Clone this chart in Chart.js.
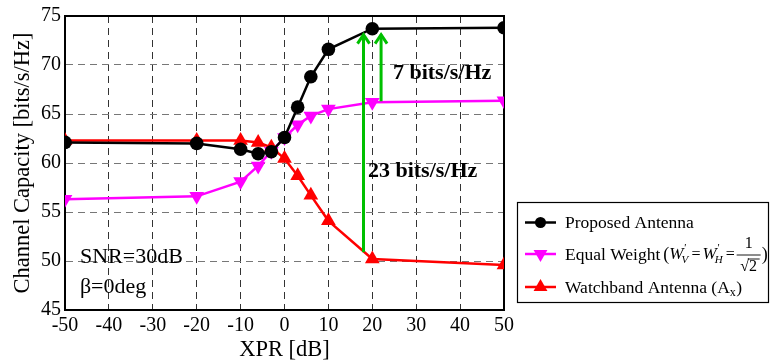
<!DOCTYPE html>
<html><head><meta charset="utf-8">
<script src="https://cdn.jsdelivr.net/npm/chart.js@4/dist/chart.umd.min.js"></script>
<style>html,body{margin:0;padding:0;background:#fff}#wrap{width:770px;height:364px;position:relative}</style>
</head><body><div id="wrap"><canvas id="c" width="770" height="364"></canvas></div>
<script>
// ---- data ----
const xprValues = [-50, -20, -10, -6, -3, 0, 3, 6, 10, 20, 50];
const proposedAntenna = [62.1, 62.0, 61.4, 60.95, 61.15, 62.6, 65.7, 68.8, 71.6, 73.7, 73.8];
const equalWeight = [56.3, 56.6, 58.1, 59.7, 61.2, 62.6, 63.9, 64.8, 65.5, 66.2, 66.35];
const watchbandAntenna = [62.3, 62.3, 62.3, 62.1, 61.6, 60.45, 58.7, 56.7, 54.1, 50.2, 49.6];
const seriesNames = ['Proposed Antenna', 'Equal Weight', 'Watchband Antenna (A'];
const xTicks = [-50, -40, -30, -20, -10, 0, 10, 20, 30, 40, 50];
const yTicks = [45, 50, 55, 60, 65, 70, 75];
// gain arrows (XPR position, start value, end value)
const arrowXpr = [18, 22];
const arrowFrom = [50.9, 66.3];
const arrowTo = [73.1, 73.1];
const gainLabels = ['23 bits/s/Hz', '7 bits/s/Hz'];
const gainLabelPos = [[19.0, 59.2], [24.7, 69.15]];
const noteLabels = ['SNR=30dB', 'β=0deg'];
const notePos = [[-46.6, 50.4], [-46.6, 47.35]];

const SERIF = '"Liberation Serif", "Times New Roman", serif';
const toPts = ys => xprValues.map((x, i) => ({x, y: ys[i]}));

const framePlugin = {
  id: 'frame',
  beforeDatasetsDraw(chart) {
    const {ctx, chartArea: a} = chart;
    ctx.save();
    ctx.setLineDash([]);
    ctx.strokeStyle = '#000'; ctx.lineWidth = 2;
    ctx.strokeRect(a.left, a.top, a.right - a.left, a.bottom - a.top);
    ctx.restore();
  },
  afterDatasetsDraw(chart) {
    const {ctx, scales: {x, y}} = chart;
    ctx.save();
    ctx.setLineDash([]);
    // arrows
    ctx.strokeStyle = '#00c000'; ctx.lineWidth = 3; ctx.lineCap = 'butt';
    arrowXpr.forEach((xv, i) => {
      const px = x.getPixelForValue(xv);
      const y0 = y.getPixelForValue(arrowFrom[i]);
      const y1 = y.getPixelForValue(arrowTo[i]);
      ctx.beginPath(); ctx.moveTo(px, y0); ctx.lineTo(px, y1); ctx.stroke();
      ctx.beginPath(); ctx.moveTo(px - 6, y1 + 9); ctx.lineTo(px, y1); ctx.lineTo(px + 6, y1 + 9); ctx.stroke();
    });
    // gain labels
    ctx.fillStyle = '#000'; ctx.textBaseline = 'middle'; ctx.textAlign = 'left';
    ctx.font = 'bold 22px ' + SERIF;
    gainLabels.forEach((t, i) => {
      ctx.fillText(t, x.getPixelForValue(gainLabelPos[i][0]), y.getPixelForValue(gainLabelPos[i][1]));
    });
    ctx.font = '22px ' + SERIF;
    noteLabels.forEach((t, i) => {
      ctx.fillText(t, x.getPixelForValue(notePos[i][0]), y.getPixelForValue(notePos[i][1]));
    });
    ctx.restore();
  },
  afterDraw(chart) {
    const {ctx} = chart;
    ctx.save();
    ctx.setLineDash([]);
    const bx = 517, by = 202, bw = 251, bh = 100;
    ctx.fillStyle = '#fff'; ctx.fillRect(bx, by, bw, bh);
    ctx.strokeStyle = '#000'; ctx.lineWidth = 1.2;
    ctx.strokeRect(bx + 0.5, by + 0.5, bw, bh);
    const rows = [222.5, 254, 287];
    chart.data.datasets.forEach((ds, i) => {
      const ry = rows[i];
      ctx.strokeStyle = ds.borderColor; ctx.fillStyle = ds.borderColor; ctx.lineWidth = 2.5;
      ctx.beginPath(); ctx.moveTo(525, ry); ctx.lineTo(556, ry); ctx.stroke();
      Chart.helpers.drawPoint(ctx, {pointStyle: ds.pointStyle, rotation: ds.rotation || 0, radius: ds.legendRadius, borderWidth: 0}, 540.5, ry);
    });
    ctx.fillStyle = '#000'; ctx.textBaseline = 'middle'; ctx.textAlign = 'left';
    ctx.font = '17.5px ' + SERIF;
    ctx.fillText(seriesNames[0], 565, rows[0] + 1);
    ctx.fillText(seriesNames[1], 565, rows[1] + 1);
    let w = ctx.measureText(seriesNames[1]).width;
    // formula (W'_V = W'_H = 1/sqrt2)
    let fx = 565 + w + 3;
    const fy = rows[1] + 1;
    ctx.font = '18px ' + SERIF; ctx.fillText('(', fx, fy); fx += ctx.measureText('(').width;
    ctx.font = 'italic 17px ' + SERIF; ctx.fillText('W', fx, fy); fx += ctx.measureText('W').width - 1;
    ctx.font = 'italic 11px ' + SERIF; ctx.fillText("'", fx + 1, fy - 7); ctx.fillText('V', fx - 1, fy + 5); fx += 9;
    ctx.font = '16px ' + SERIF; ctx.fillText('=', fx, fy); fx += ctx.measureText('=').width + 2;
    ctx.font = 'italic 17px ' + SERIF; ctx.fillText('W', fx, fy); fx += ctx.measureText('W').width - 1;
    ctx.font = 'italic 11px ' + SERIF; ctx.fillText("'", fx + 1, fy - 7); ctx.fillText('H', fx - 1, fy + 5); fx += 10;
    ctx.font = '16px ' + SERIF; ctx.fillText('=', fx, fy); fx += ctx.measureText('=').width + 2;
    // fraction
    ctx.strokeStyle = '#000'; ctx.lineWidth = 0.9;
    ctx.beginPath(); ctx.moveTo(fx, fy); ctx.lineTo(fx + 24, fy); ctx.stroke();
    ctx.font = '16px ' + SERIF; ctx.textAlign = 'center';
    ctx.fillText('1', fx + 12, fy - 11);
    ctx.fillText('√2', fx + 12, fy + 12);
    ctx.beginPath(); ctx.moveTo(fx + 11, fy + 4); ctx.lineTo(fx + 23, fy + 4); ctx.stroke();
    ctx.textAlign = 'left';
    fx += 25;
    ctx.font = '18px ' + SERIF; ctx.fillText(')', fx, fy);
    // third entry with subscript
    ctx.font = '17.5px ' + SERIF;
    ctx.fillText(seriesNames[2], 565, rows[2] + 1);
    let w3 = ctx.measureText(seriesNames[2]).width;
    ctx.font = '12px ' + SERIF; ctx.fillText('x', 565 + w3, rows[2] + 6);
    let w4 = ctx.measureText('x').width;
    ctx.font = '17.5px ' + SERIF; ctx.fillText(')', 565 + w3 + w4 + 0.5, rows[2] + 1);
    ctx.restore();
  }
};

const mk = (label, ys, color, style, rot, r, lr) => ({
  label, data: toPts(ys), borderColor: color, backgroundColor: color,
  pointBackgroundColor: color, pointBorderColor: color, pointStyle: style, rotation: rot,
  pointRotation: rot, pointRadius: r, pointHoverRadius: r, borderWidth: 2.5, pointBorderWidth: 0,
  showLine: true, fill: false, tension: 0, legendRadius: lr
});

new Chart(document.getElementById('c'), {
  type: 'scatter',
  data: {
    datasets: [
      mk(seriesNames[0], proposedAntenna, '#000000', 'circle', 0, 6.8, 5.5),
      mk(seriesNames[1], equalWeight, '#ff00ff', 'triangle', 180, 8.5, 8),
      mk(seriesNames[2], watchbandAntenna, '#ff0000', 'triangle', 0, 8.5, 8)
    ]
  },
  options: {
    responsive: false, animation: false, devicePixelRatio: 1,
    layout: {padding: {left: 0, right: 266, top: 14, bottom: 0}},
    plugins: {legend: {display: false}, tooltip: {enabled: false}},
    scales: {
      x: {
        type: 'linear', min: -50, max: 50,
        afterBuildTicks: s => { s.ticks = xTicks.map(v => ({value: v})); },
        afterFit: s => { s.height = 54; },
        ticks: {font: {family: SERIF, size: 20}, color: '#000', padding: 4, maxRotation: 0},
        grid: {color: '#333', lineWidth: 1, drawTicks: false},
        border: {display: true, color: '#000', width: 2, dash: [7, 5]},
        title: {display: true, text: 'XPR [dB]', font: {family: SERIF, size: 22.5}, color: '#000', padding: {top: 0, bottom: 0}}
      },
      y: {
        min: 45, max: 75,
        afterBuildTicks: s => { s.ticks = yTicks.map(v => ({value: v})); },
        afterFit: s => { s.width = 65; },
        ticks: {font: {family: SERIF, size: 20}, color: '#000', padding: 4},
        grid: {color: '#777', lineWidth: 1, drawTicks: false},
        border: {display: true, color: '#000', width: 2, dash: [7, 5]},
        title: {display: true, text: 'Channel Capacity [bits/s/Hz]', font: {family: SERIF, size: 22.5}, color: '#000', padding: {top: 10, bottom: 0}}
      }
    }
  },
  plugins: [framePlugin]
});
</script>
</body></html>
